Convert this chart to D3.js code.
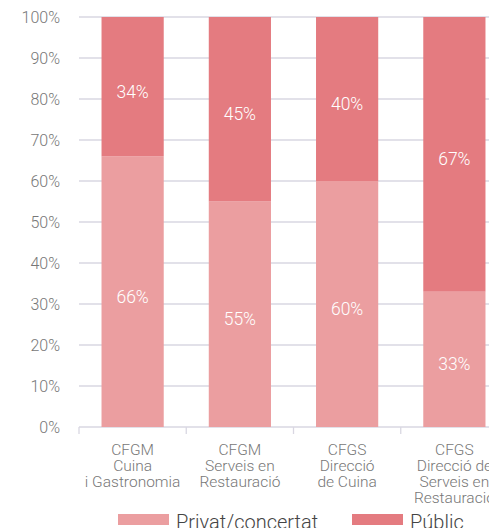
<!DOCTYPE html>
<html lang="ca">
<head>
<meta charset="utf-8">
<script src="https://cdnjs.cloudflare.com/ajax/libs/d3/7.8.5/d3.min.js"></script>
<style>
  body { margin: 0; background: #fff; }
  text { font-family: Roboto, "Open Sans", sans-serif; font-weight: 300; }
</style>
</head>
<body>
<script>
// data
var categories = [
  ["CFGM", "Cuina", "i Gastronomia"],
  ["CFGM", "Serveis en", "Restauració"],
  ["CFGS", "Direcció", "de Cuina"],
  ["CFGS", "Direcció de", "Serveis en", "Restauració"]
];
var privat = [66, 55, 60, 33];
var public_ = [34, 45, 40, 67];
var seriesNames = ["Privat/concertat", "Públic"];
var colors = ["#eb9ea0", "#e47b80"];
var yTicks = [0, 10, 20, 30, 40, 50, 60, 70, 80, 90, 100];

var w = 489, h = 528;
var svg = d3.select("body").append("svg").attr("width", w).attr("height", h);

var x = d3.scaleBand().domain(d3.range(categories.length))
  .range([79, 508]).paddingInner(0.42).paddingOuter(0.21);
var y = d3.scaleLinear().domain([0, 100]).range([427, 17]);

// grid
svg.selectAll("line.grid").data(yTicks).enter().append("line")
  .attr("x1", 79).attr("x2", w)
  .attr("y1", function(d) { return y(d); })
  .attr("y2", function(d) { return y(d); })
  .attr("stroke", "#d9d7e2").attr("stroke-width", 1.3);

// x tick marks at band boundaries
svg.selectAll("line.xt").data(d3.range(categories.length)).enter().append("line")
  .attr("x1", function(d) { return x(d) - x.step() * x.paddingInner() / 2; })
  .attr("x2", function(d) { return x(d) - x.step() * x.paddingInner() / 2; })
  .attr("y1", 427).attr("y2", 434)
  .attr("stroke", "#d9d7e2").attr("stroke-width", 1.3);

// y labels
svg.selectAll("text.yl").data(yTicks).enter().append("text")
  .attr("x", 60).attr("y", function(d) { return y(d) + 6; })
  .attr("text-anchor", "end").attr("font-size", 16).attr("fill", "#777")
  .text(function(d) { return d + "%"; });

// stacked bars
var rows = categories.map(function(c, i) { return { i: i, privat: privat[i], public_: public_[i] }; });
var stack = d3.stack().keys(["privat", "public_"])(rows);

stack.forEach(function(layer, k) {
  var g = svg.append("g");
  g.selectAll("rect").data(layer).enter().append("rect")
    .attr("x", function(d) { return x(d.data.i); })
    .attr("width", x.bandwidth())
    .attr("y", function(d) { return y(d[1]); })
    .attr("height", function(d) { return y(d[0]) - y(d[1]); })
    .attr("fill", colors[k]);
  g.selectAll("text").data(layer).enter().append("text")
    .attr("x", function(d) { return x(d.data.i) + x.bandwidth() / 2; })
    .attr("y", function(d) { return y((d[0] + d[1]) / 2) + 11; })
    .attr("text-anchor", "middle").attr("font-size", 17.5).attr("fill", "#fff")
    .text(function(d) { return (d[1] - d[0]) + "%"; });
});

// category labels
categories.forEach(function(lines, i) {
  var t = svg.append("text").attr("text-anchor", "middle")
    .attr("font-size", 15.5).attr("fill", "#777");
  lines.forEach(function(l, j) {
    t.append("tspan").attr("x", x(i) + x.bandwidth() / 2)
      .attr("y", 455 + j * 16).text(l);
  });
});

// legend
var legX = [118, 352];
seriesNames.forEach(function(name, k) {
  svg.append("rect").attr("x", legX[k]).attr("y", 514)
    .attr("width", 51).attr("height", 11).attr("fill", colors[k]);
  svg.append("text").attr("x", legX[k] + 58).attr("y", 529)
    .attr("font-size", 20).attr("fill", "#444").text(name);
});
</script>
</body>
</html>
